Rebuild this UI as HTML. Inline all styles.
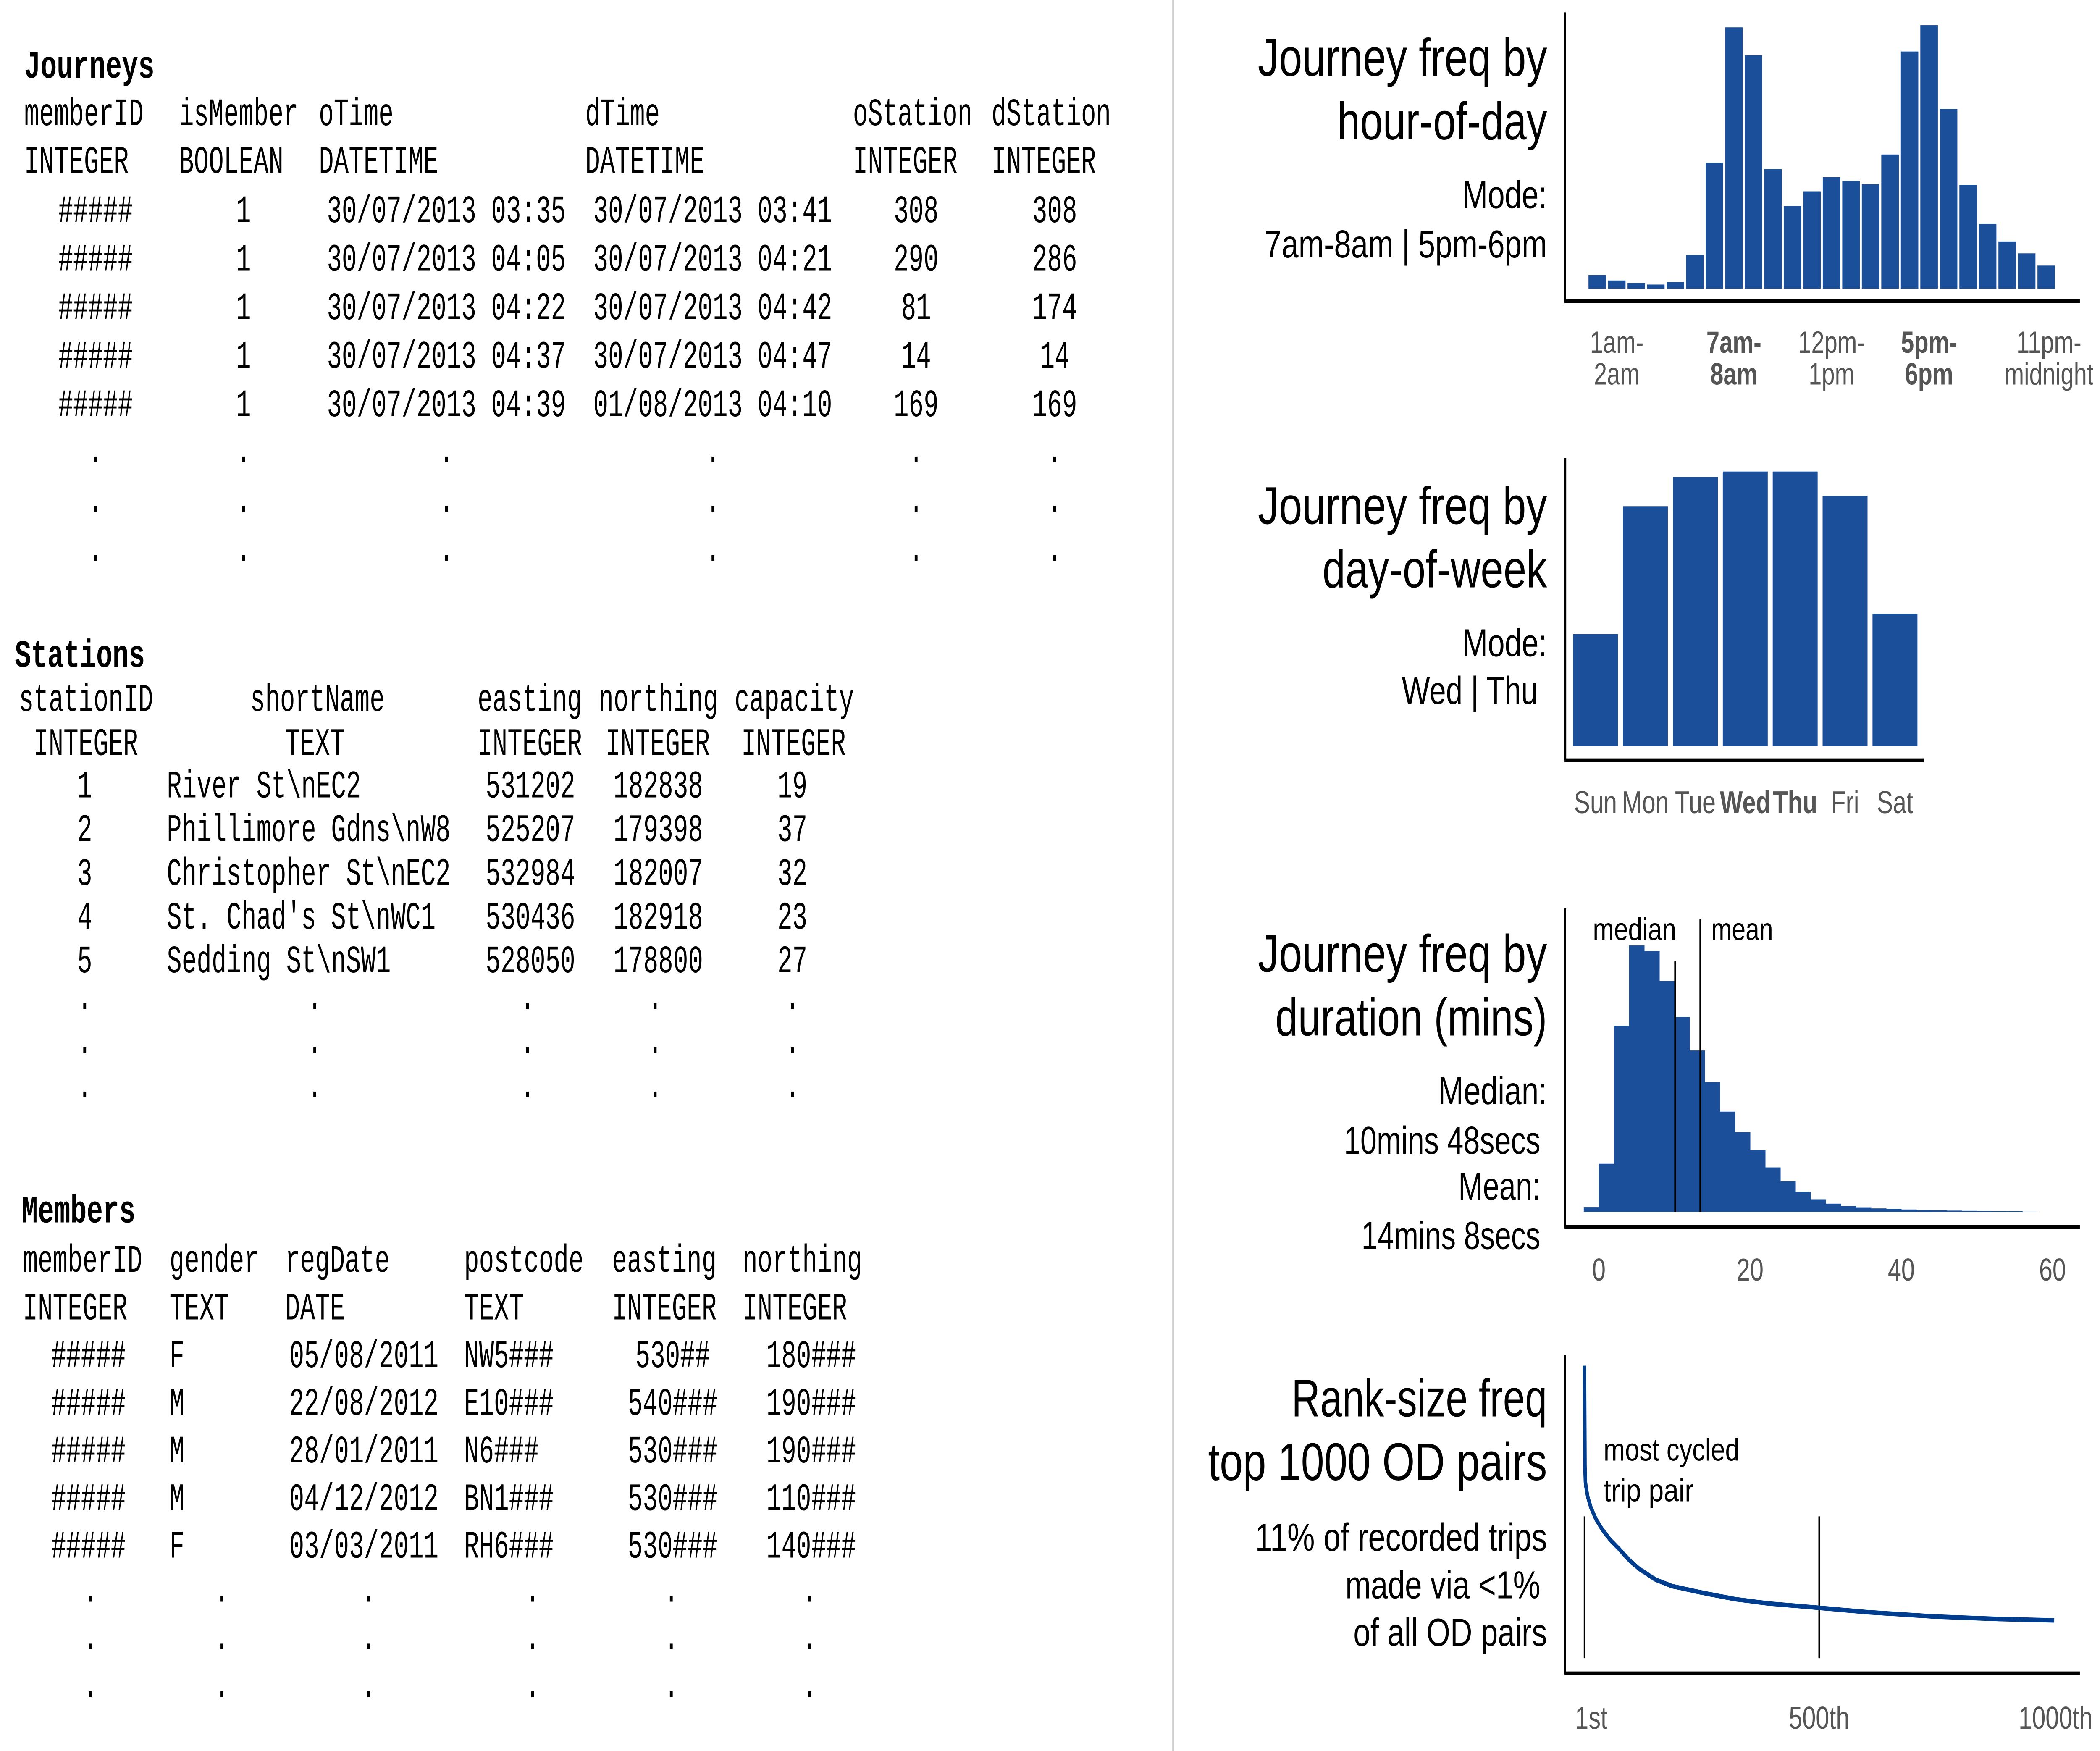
<!DOCTYPE html>
<html><head><meta charset="utf-8">
<style>
html,body{margin:0;padding:0;background:#fff;overflow:hidden;width:100%;height:100%;}
svg{display:block;width:100vw;height:100vh;}
.mono{font-family:"Liberation Mono",monospace;fill:#000;}
.sans{font-family:"Liberation Sans",sans-serif;fill:#000;}
.tick{font-family:"Liberation Sans",sans-serif;fill:#555;}
</style></head>
<body>
<svg id="root" xmlns="http://www.w3.org/2000/svg" viewBox="0 0 1561 992.6" preserveAspectRatio="none">
<rect x="0" y="0" width="1561" height="992.6" fill="#fff"/>
<line x1="872" y1="0" x2="872" y2="992.6" stroke="#ccc" stroke-width="1.2"/>
<g id="tables"></g>
<g id="charts"></g>
</svg>
<script>
// ---- chart data ----
var hourLabels = ["1am-|2am","7am-|8am","12pm-|1pm","5pm-|6pm","11pm-|midnight"];
var hourLabelIdx = [1,7,12,17,23];
var hourLabelBold = [false,true,false,true,false];
var hourValues = [50,30,21,15,24,124,465,964,861,441,305,359,411,397,385,495,875,972,663,383,239,174,130,85];
var dayCategories = ["Sun","Mon","Tue","Wed","Thu","Fri","Sat"];
var dayBold = [false,false,false,true,true,false,false];
var dayValues = [413,885,993,1013,1013,923,488];
var durBinStart = -2;
var durBinWidth = 2;
var durValues = [22,222,858,1228,1202,1064,899,744,598,462,367,285,205,141,93,58,38,27,21,16,14,11,8,7,6,5,4,3,3,1];
var durTicks = [0,20,40,60];
var durMedian = 10.8;
var durMean = 14.13;
var rankX = [1,2,3,4,8,15,25,39,57,75,96,117,152,187,250,321,391,499,602,743,884,1000];
var rankValues = [1405,940,870,850,800,750,700,650,600,560,510,470,420,390,360,330,310,290,270,250,238,232];
var rankTicks = [1,500,1000];
var rankTickLabels = ["1st","500th","1000th"];
var rankMarks = [1,500];

var NS="http://www.w3.org/2000/svg";
function mk(tag,attrs,parent){var e=document.createElementNS(NS,tag);for(var k in attrs)e.setAttribute(k,attrs[k]);parent.appendChild(e);return e;}
var T=document.getElementById('tables');
var C=document.getElementById('charts');

// ---- tables ----
function mt(x,y,s,anchor,bold,name){
  var e=mk('text',{x:x,y:y,'class':'mono','font-size':22,'text-anchor':anchor||'start','textLength':s.length*(bold?12.1:11.1),'lengthAdjust':'spacingAndGlyphs'},T);
  if(bold)e.setAttribute('font-weight','bold');
  e.textContent=s;
  
  
  return e;
}
// Journeys
mt(18,44,"Journeys",'start',true,'journeys-title');
var jh=[["memberID",18],["isMember",133],["oTime",237],["dTime",435],["oStation",634],["dStation",737]];
jh.forEach(function(h){mt(h[1],71,h[0],'start',false,'journeys-header');});
var jt=[["INTEGER",18],["BOOLEAN",133],["DATETIME",237],["DATETIME",435],["INTEGER",634],["INTEGER",737]];
jt.forEach(function(h){mt(h[1],98,h[0],'start',false,'journeys-type');});
var jrows=[["30/07/2013 03:35","30/07/2013 03:41","308","308"],["30/07/2013 04:05","30/07/2013 04:21","290","286"],["30/07/2013 04:22","30/07/2013 04:42","81","174"],["30/07/2013 04:37","30/07/2013 04:47","14","14"],["30/07/2013 04:39","01/08/2013 04:10","169","169"]];
jrows.forEach(function(r,i){var y=126+i*27.5;
  mt(71,y,"#####",'middle',false,'journeys-cell');
  mt(181,y,"1",'middle',false,'journeys-cell');
  mt(243,y,r[0],'start',false,'journeys-cell');
  mt(441,y,r[1],'start',false,'journeys-cell');
  mt(681,y,r[2],'middle',false,'journeys-cell');
  mt(784,y,r[3],'middle',false,'journeys-cell');});
[71,181,332,530,681,784].forEach(function(x){[262,290,318].forEach(function(y){mt(x,y,".",'middle',false,'journeys-ellipsis');});});
// Stations
mt(11,378,"Stations",'start',true,'stations-title');
[["stationID",14],["shortName",186],["easting",355],["northing",445],["capacity",546]].forEach(function(h){mt(h[1],403,h[0],'start',false,'stations-header');});
[["INTEGER",25],["TEXT",212],["INTEGER",355],["INTEGER",450],["INTEGER",551]].forEach(function(h){mt(h[1],428,h[0],'start',false,'stations-type');});
var srows=[["1","River St\\nEC2","531202","182838","19"],["2","Phillimore Gdns\\nW8","525207","179398","37"],["3","Christopher St\\nEC2","532984","182007","32"],["4","St. Chad's St\\nWC1","530436","182918","23"],["5","Sedding St\\nSW1","528050","178800","27"]];
srows.forEach(function(r,i){var y=452+i*24.8;
  mt(63,y,r[0],'middle',false,'stations-cell');
  mt(124,y,r[1],'start',false,'stations-cell');
  mt(361,y,r[2],'start',false,'stations-cell');
  mt(456,y,r[3],'start',false,'stations-cell');
  mt(589,y,r[4],'middle',false,'stations-cell');});
[63,234,392,487,589].forEach(function(x){[572,597,622].forEach(function(y){mt(x,y,".",'middle',false,'stations-ellipsis');});});
// Members
mt(16,693,"Members",'start',true,'members-title');
[["memberID",17],["gender",126],["regDate",212],["postcode",345],["easting",455],["northing",552]].forEach(function(h){mt(h[1],721,h[0],'start',false,'members-header');});
[["INTEGER",17],["TEXT",126],["DATE",212],["TEXT",345],["INTEGER",455],["INTEGER",552]].forEach(function(h){mt(h[1],748,h[0],'start',false,'members-type');});
var mrows=[["F","05/08/2011","NW5###","530##","180###"],["M","22/08/2012","E10###","540###","190###"],["M","28/01/2011","N6###","530###","190###"],["M","04/12/2012","BN1###","530###","110###"],["F","03/03/2011","RH6###","530###","140###"]];
mrows.forEach(function(r,i){var y=775+i*27;
  mt(38,y,"#####",'start',false,'members-cell');
  mt(126,y,r[0],'start',false,'members-cell');
  mt(215,y,r[1],'start',false,'members-cell');
  mt(345,y,r[2],'start',false,'members-cell');
  mt(500,y,r[3],'middle',false,'members-cell');
  mt(603,y,r[4],'middle',false,'members-cell');});
[67,165,274,396,499,602].forEach(function(x){[908,935,962].forEach(function(y){mt(x,y,".",'middle',false,'members-ellipsis');});});

// ---- chart helpers ----
var BLUE="#1b4f9a";
function st(x,y,s,size,w,name,anchor,cls,bold){
  var a={x:x,y:y,'class':cls||'sans','font-size':size,'text-anchor':anchor||'end'};
  if(w){a.textLength=w;a.lengthAdjust='spacingAndGlyphs';}
  var e=mk('text',a,C);
  if(bold)e.setAttribute('font-weight','bold');
  e.textContent=s;
  
  
  return e;
}
function ln(x1,y1,x2,y2,w,name,col){
  var e=mk('line',{x1:x1,y1:y1,x2:x2,y2:y2,stroke:col||'#000','stroke-width':w},C);
  
  
  return e;
}

// Chart 1: hour of day
st(1150,43,"Journey freq by",30,215,'hour-chart-title-line1');
st(1150,79,"hour-of-day",30,156,'hour-chart-title-line2');
st(1150,118,"Mode:",22,63,'hour-mode-label');
st(1150,146,"7am-8am | 5pm-6pm",22,210,'hour-mode-value');
ln(1163.5,7,1163.5,171,1.3,'hour-y-axis');
ln(1163,170.8,1546,170.8,2.2,'hour-x-axis');
(function(){
  var base=163.6,x0=1180.8,pitch=14.51,bw=13.0,k=0.1536;
  function hx(i){return x0+i*pitch;}
  function hy(v){return base-v*k;}
  hourValues.forEach(function(v,i){
    var r=mk('rect',{x:hx(i),y:hy(v),width:bw,height:base-hy(v),fill:BLUE},C);
    
    
  });
  hourLabels.forEach(function(l,j){
    var parts=l.split('|'),cx=hx(hourLabelIdx[j])+bw/2+(j==4?2:0);
    st(cx,200,parts[0],17.5,null,'hour-x-tick-label','middle','tick',hourLabelBold[j]);
    st(cx,218,parts[1],17.5,null,'hour-x-tick-label','middle','tick',hourLabelBold[j]);
  });
})();

// Chart 2: day of week
st(1150,297,"Journey freq by",30,215,'day-chart-title-line1');
st(1150,333,"day-of-week",30,167,'day-chart-title-line2');
st(1150,372,"Mode:",22,63,'day-mode-label');
st(1143,399,"Wed | Thu",22,101,'day-mode-value');
ln(1163.6,259.7,1163.6,431,1.3,'day-y-axis');
ln(1163,431,1430,431,2.2,'day-x-axis');
(function(){
  var base=422.9,x0=1169.3,pitch=37.1,bw=33.4,k=0.1536;
  function dx(i){return x0+i*pitch;}
  function dy(v){return base-v*k;}
  dayValues.forEach(function(v,i){
    var r=mk('rect',{x:dx(i),y:dy(v),width:bw,height:base-dy(v),fill:BLUE},C);
    
    
    st(dx(i)+bw/2,461,dayCategories[i],18,null,'day-x-tick-label','middle','tick',dayBold[i]);
  });
})();

// Chart 3: duration histogram
st(1150,551,"Journey freq by",30,215,'duration-chart-title-line1');
st(1150,587,"duration (mins)",30,202,'duration-chart-title-line2');
st(1150,626,"Median:",22,81,'median-label');
st(1145,654,"10mins 48secs",22,146,'median-value');
st(1145,680,"Mean:",22,61,'mean-label');
st(1145,708,"14mins 8secs",22,133,'mean-value');
ln(1163.5,515,1163.5,696,1.3,'duration-y-axis');
ln(1163,695.5,1546,695.5,2.2,'duration-x-axis');
(function(){
  var base=687,X0=1188.5,kx=5.62,k=0.123;
  function xx(m){return X0+m*kx;}
  function yy(v){return base-v*k;}
  durValues.forEach(function(v,i){
    var a=durBinStart+i*durBinWidth;
    var r=mk('rect',{x:xx(a),y:yy(v),width:durBinWidth*kx+0.2,height:base-yy(v),fill:BLUE},C);
    
    
  });
  durTicks.forEach(function(t){st(xx(t),726,String(t),18,null,'duration-x-tick-label','middle','tick');});
  ln(xx(durMedian)-4,545,xx(durMedian)-4,687,1.3,'median-line');
  ln(xx(durMean)-4,521,xx(durMean)-4,687,1.3,'mean-line');
  st(1184,533,"median",18,62,'median-annotation','start');
  st(1272,533,"mean",18,46,'mean-annotation','start');
})();

// Chart 4: rank-size
st(1150,803,"Rank-size freq",30,190,'rank-chart-title-line1');
st(1150,839,"top 1000 OD pairs",30,252,'rank-chart-title-line2');
st(1150,879,"11% of recorded trips",22,217,'rank-note-line1');
st(1145,906,"made via <1%",22,145,'rank-note-line2');
st(1150,933,"of all OD pairs",22,144,'rank-note-line3');
ln(1163.5,768,1163.5,949,1.3,'rank-y-axis');
ln(1163,948.6,1546,948.6,2.2,'rank-x-axis');
(function(){
  function rx(r){return 1177.8+(r-1)/999*349.2;}
  function ry(v){return 948.6-(v+12)*0.1231;}
  rankMarks.forEach(function(r){ln(rx(r),859.6,rx(r),940,1.1,'rank-reference-line');});
  var d=rankX.map(function(r,i){return (i?'L':'M')+rx(r).toFixed(2)+','+ry(rankValues[i]).toFixed(2);}).join(' ');
  var p=mk('path',{d:d,fill:'none',stroke:'#003d8f','stroke-width':2.6,'stroke-linejoin':'round'},C);
  
  
  rankTicks.forEach(function(t,i){st(rx(t)+(i==0?5:(i==2?1:0)),980,rankTickLabels[i],18,null,'rank-x-tick-label','middle','tick');});
  st(1192,828,"most cycled",18,101,'most-cycled-annotation','start');
  st(1192,851,"trip pair",18,67,'most-cycled-annotation','start');
})();
</script>
</body></html>
